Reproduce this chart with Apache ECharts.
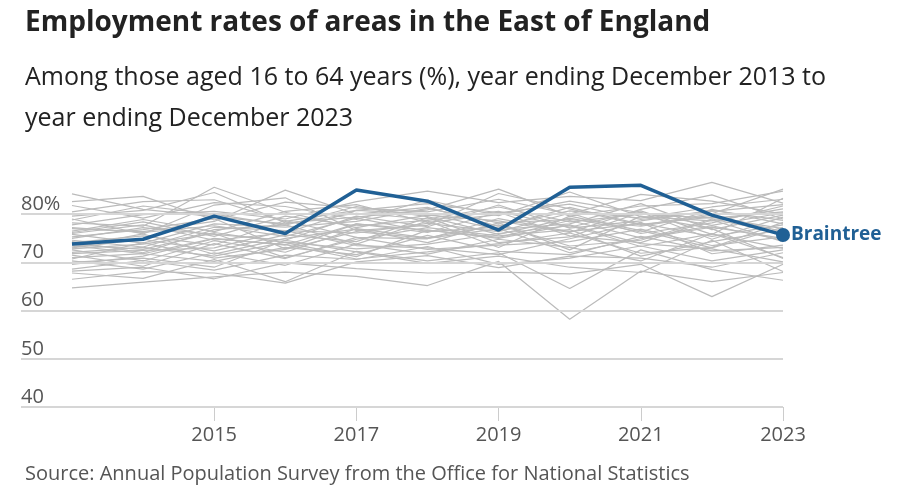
<!DOCTYPE html>
<html><head><meta charset="utf-8">
<script src="https://cdn.jsdelivr.net/npm/echarts@6/dist/echarts.min.js"></script>
<style>html,body{margin:0;padding:0;background:#fff}#c{width:902px;height:499px}</style>
</head><body><div id="c"></div>
<script>
const years = [2013,2014,2015,2016,2017,2018,2019,2020,2021,2022,2023];
const xTicks = [2015,2017,2019,2021,2023];
const yTicks = [40,50,60,70,80];
const braintree = [73.8,74.8,79.6,76.0,85.0,82.7,76.7,85.6,86.0,79.8,75.7];
const otherAreas = [
 [84.2,81.0,79.5,78.0,80.2,79.0,81.5,78.4,80.0,79.2,80.5],
 [80.5,82.6,83.0,78.5,80.8,82.2,80.3,82.1,78.9,80.6,82.0],
 [78.2,77.5,85.6,80.4,77.2,79.8,78.6,76.2,81.0,84.0,79.0],
 [79.6,80.8,84.5,78.2,79.4,80.9,85.2,79.6,81.7,82.2,84.8],
 [77.0,76.4,78.5,85.0,80.0,81.4,77.5,80.7,79.2,81.5,83.1],
 [76.5,78.9,76.4,80.6,82.0,78.3,79.9,82.7,80.3,77.7,80.3],
 [75.8,74.0,78.0,77.3,78.5,81.2,78.2,78.9,77.5,79.8,76.4],
 [75.0,77.2,75.8,74.6,79.6,77.4,81.9,77.1,78.6,80.8,78.7],
 [74.6,73.2,77.3,76.6,76.1,78.1,76.4,80.2,76.0,78.2,81.7],
 [74.1,75.5,73.6,78.7,75.2,74.9,79.1,76.4,78.1,75.4,77.8],
 [73.5,71.8,75.0,73.6,78.0,76.7,75.2,78.7,75.1,77.6,74.6],
 [73.0,74.8,72.4,75.7,74.3,79.3,74.1,75.3,80.4,74.8,79.4],
 [72.6,70.3,74.5,72.1,77.0,75.1,77.8,73.4,74.6,79.0,76.0],
 [72.1,73.1,71.3,74.2,72.8,73.8,76.0,77.6,73.3,75.9,72.9],
 [71.5,69.2,73.9,70.8,75.2,72.7,73.6,74.3,76.9,73.5,75.3],
 [71.0,71.8,70.2,73.1,71.6,75.6,72.3,71.6,75.4,72.4,73.1],
 [70.3,68.6,72.0,69.4,73.8,71.7,74.8,73.1,70.3,76.0,71.0],
 [68.6,70.4,68.4,71.5,70.6,73.3,69.6,70.9,73.4,70.3,72.6],
 [67.8,66.7,70.6,66.0,72.3,70.3,72.0,64.6,72.6,68.5,66.3],
 [64.7,65.9,67.0,68.0,67.1,65.2,70.2,58.2,68.2,66.0,67.9],
 [68.2,69.0,66.6,69.9,68.7,67.8,68.0,67.6,69.6,62.9,69.6],
 [77.8,79.9,80.6,79.0,82.6,84.8,82.4,83.7,82.8,86.6,82.3],
 [79.0,75.9,81.9,83.4,76.6,77.7,84.3,81.1,77.7,80.1,85.2],
 [76.0,77.8,74.6,76.1,80.8,80.1,76.8,78.0,82.2,76.8,79.8],
 [75.3,76.8,79.1,72.8,78.0,76.2,80.4,75.5,74.1,78.8,74.3],
 [74.3,72.0,76.8,77.8,73.8,78.6,73.1,79.6,76.6,73.0,77.3],
 [73.2,75.9,71.7,75.0,76.9,74.1,78.2,72.6,79.6,77.0,70.8],
 [72.8,73.8,76.0,71.0,74.8,77.2,75.5,76.8,71.3,74.3,76.8],
 [71.8,72.5,73.0,76.6,73.5,73.0,71.6,74.9,78.3,71.8,73.6],
 [70.7,74.1,70.9,72.7,76.4,75.0,77.0,72.0,74.9,77.3,75.0],
 [69.6,71.3,74.9,73.7,70.7,72.2,73.9,76.1,71.9,73.1,78.3],
 [81.8,79.2,82.4,81.6,78.9,82.9,79.7,84.6,79.5,78.6,81.1],
 [82.6,83.7,78.8,82.5,81.3,80.5,83.1,80.0,84.1,82.7,80.0],
 [77.2,76.2,77.6,75.4,79.2,76.4,77.3,81.4,77.9,79.4,77.0],
 [76.2,78.4,75.4,79.6,77.6,78.7,80.6,77.3,80.7,75.8,83.3],
 [78.8,81.7,80.0,77.7,81.6,79.5,75.8,79.2,76.3,81.0,78.0],
 [73.7,72.7,76.2,74.1,71.2,76.7,75.0,77.8,73.9,72.8,70.1],
 [70.0,70.9,69.0,74.6,72.2,69.8,71.3,69.0,67.9,74.6,68.1],
 [66.5,68.1,67.8,65.7,70.1,71.4,68.9,71.3,70.9,69.0,72.0]
];
const pairs = d => d.map((v,i)=>[years[i],v]);
const chart = echarts.init(document.getElementById('c'));
const grey = otherAreas.map(d => ({type:'line',data:pairs(d),symbol:'none',silent:true,
  lineStyle:{color:'#bbbbbb',width:1.2},z:2}));
const gridSeries = {type:'line',data:[],symbol:'none',silent:true,
  markLine:{symbol:'none',silent:true,label:{show:false},
    lineStyle:{color:'#d6d6d6',width:2,type:'solid'},
    data:yTicks.map(v=>({yAxis:v}))},z:1};
chart.setOption({
  animation:false,
  textStyle:{fontFamily:'Open Sans'},
  title:[
    {text:'Employment rates of areas in the East of England',left:20,top:4,
     textStyle:{fontSize:28,fontWeight:'bold',color:'#222',fontFamily:'Open Sans'}},
    {text:'Among those aged 16 to 64 years (%), year ending December 2013 to\nyear ending December 2023',left:20,top:52,
     textStyle:{fontSize:25,fontWeight:'normal',color:'#222',lineHeight:41,fontFamily:'Open Sans'}},
    {text:'Source: Annual Population Survey from the Office for National Statistics',left:20,top:459,
     textStyle:{fontSize:20,fontWeight:'normal',color:'#555',fontFamily:'Open Sans'}}
  ],
  grid:{left:21,right:119,top:166,bottom:92,containLabel:false},
  xAxis:{type:'value',min:2012.283,max:2023,
    splitLine:{show:false},axisLine:{show:false},
    axisTick:{show:true,length:14,lineStyle:{color:'#ccc'},customValues:xTicks},
    axisLabel:{customValues:xTicks,fontSize:20,color:'#555',margin:18,formatter:v=>String(v)}},
  yAxis:{type:'value',min:40,max:90,interval:10,splitLine:{show:false},
    axisLine:{show:false},axisTick:{show:false},
    axisLabel:{inside:true,showMaxLabel:false,verticalAlign:'bottom',margin:0,fontSize:20,color:'#555',
      formatter:v=>v===80?'80%':(v===90?'':String(v))}},
  series:[gridSeries,...grey,
    {type:'line',name:'Braintree',z:10,symbol:'circle',
     showSymbol:true,
     itemStyle:{color:'#206095',opacity:1},
     lineStyle:{color:'#206095',width:3.5},
     label:{show:false},
     endLabel:{show:true,formatter:'Braintree',color:'#206095',fontWeight:'bold',fontSize:19,distance:8},
     data:pairs(braintree).map((p,i)=>({value:p,symbolSize:i===braintree.length-1?14:0}))}
  ]
});
</script></body></html>
